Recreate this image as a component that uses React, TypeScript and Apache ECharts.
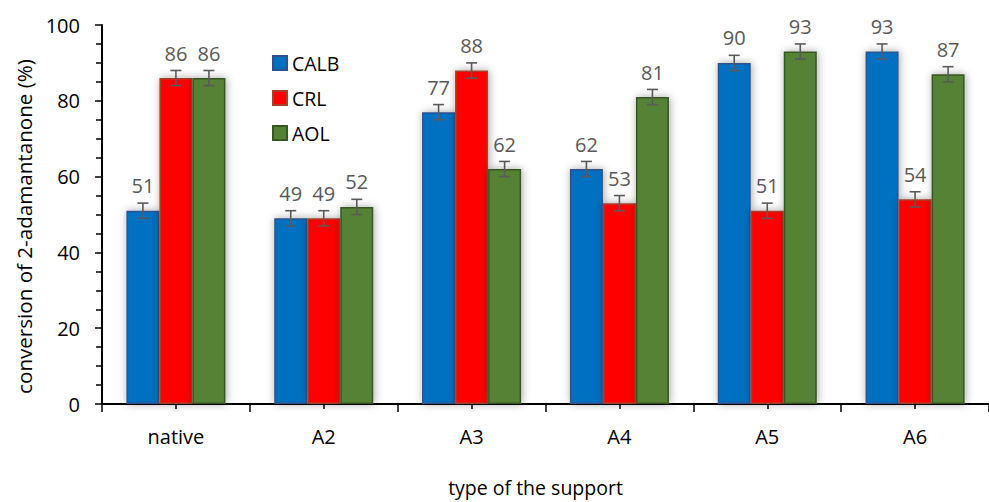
import React, { useEffect, useRef } from "react";
import * as echarts from "echarts";

// Support types on the x axis
const supports = ["native", "A2", "A3", "A4", "A5", "A6"];

// Conversion of 2-adamantanone (%) for each lipase
const calb = [51, 49, 77, 62, 90, 93];
const crl = [86, 49, 88, 53, 51, 54];
const aol = [86, 52, 62, 81, 93, 87];

// Symmetric error (± %) on every bar
const errCalb = [2, 2, 2, 2, 2, 2];
const errCrl = [2, 2, 2, 2, 2, 2];
const errAol = [2, 2, 2, 2, 2, 2];

const yTicks = { min: 0, max: 100, interval: 20 };

const FONT = "'Open Sans', 'Noto Sans', sans-serif";
const CATEGORY_GAP = 0.33;

type SeriesDef = {
  name: string;
  values: number[];
  errors: number[];
  color: string;
  border: string;
};

const seriesDefs: SeriesDef[] = [
  { name: "CALB", values: calb, errors: errCalb, color: "#0070C0", border: "#2F528F" },
  { name: "CRL", values: crl, errors: errCrl, color: "#FF0000", border: "#A5402A" },
  { name: "AOL", values: aol, errors: errAol, color: "#548235", border: "#385723" },
];

function errorBarSeries(def: SeriesDef, idx: number, count: number) {
  return {
    type: "custom",
    name: def.name + " error",
    xAxisIndex: 0,
    yAxisIndex: 0,
    z: 5,
    silent: true,
    data: def.values.map((v, i) => [i, v, def.errors[i]]),
    renderItem: (_params: any, api: any) => {
      const cat = api.value(0);
      const val = api.value(1);
      const err = api.value(2);
      const band = api.size([1, 0])[0];
      const bw = (band * (1 - CATEGORY_GAP)) / count;
      const base = api.coord([cat, val]);
      const cx = base[0] + (idx - (count - 1) / 2) * bw;
      const yTop = api.coord([cat, val + err])[1];
      const yBot = api.coord([cat, val - err])[1];
      const cap = 5.5;
      const style = { stroke: "#5A5A5A", lineWidth: 1.6 };
      return {
        type: "group",
        children: [
          { type: "line", shape: { x1: cx, y1: yTop, x2: cx, y2: yBot }, style },
          { type: "line", shape: { x1: cx - cap, y1: yTop, x2: cx + cap, y2: yTop }, style },
          { type: "line", shape: { x1: cx - cap, y1: yBot, x2: cx + cap, y2: yBot }, style },
        ],
      };
    },
  };
}

export default function App() {
  const ref = useRef<HTMLDivElement>(null);

  useEffect(() => {
    if (!ref.current) return;
    const chart = echarts.init(ref.current, undefined, { renderer: "svg" });

    const bars = seriesDefs.map((d) => ({
      type: "bar",
      name: d.name,
      xAxisIndex: 0,
      yAxisIndex: 0,
      data: d.values,
      barGap: "0%",
      barCategoryGap: CATEGORY_GAP * 100 + "%",
      itemStyle: {
        color: d.color,
        borderColor: d.border,
        borderWidth: 1.5,
        shadowBlur: 8,
        shadowColor: "rgba(0,0,0,0.35)",
        shadowOffsetX: 1,
      },
      label: {
        show: true,
        position: "top",
        distance: 15,
        fontFamily: FONT,
        fontSize: 20,
        color: "#595959",
      },
    }));

    chart.setOption({
      animation: false,
      backgroundColor: "#ffffff",
      grid: { left: 102, top: 25, width: 894.5, height: 384 },
      legend: {
        orient: "vertical",
        left: 267,
        top: 48,
        icon: "rect",
        itemWidth: 14,
        itemHeight: 14,
        itemGap: 15,
        data: seriesDefs.map((d) => d.name),
        textStyle: { fontFamily: FONT, fontSize: 19.5, color: "#000" },
      },
      xAxis: [
        {
          type: "category",
          data: supports,
          name: "type of the support",
          nameLocation: "middle",
          nameGap: 73,
          nameTextStyle: { fontFamily: FONT, fontSize: 19.5, color: "#000", padding: [0, 20, 0, 0] },
          axisLine: { show: true, lineStyle: { color: "#000", width: 2 } },
          axisTick: { show: true, alignWithLabel: false, length: 8, lineStyle: { color: "#000", width: 1.5 } },
          axisLabel: { fontFamily: FONT, fontSize: 20, color: "#000", margin: 22 },
          splitLine: { show: false },
        },
        {
          type: "category",
          data: supports,
          position: "bottom",
          axisLine: { show: false },
          axisTick: { show: true, alignWithLabel: true, length: 5, lineStyle: { color: "#000", width: 1.5 } },
          axisLabel: { show: false },
          splitLine: { show: false },
        },
      ],
      yAxis: {
        type: "value",
        min: yTicks.min,
        max: yTicks.max,
        interval: yTicks.interval,
        name: "conversion of 2-adamantanone (%)",
        nameLocation: "middle",
        nameRotate: 90,
        nameGap: 66,
        nameTextStyle: { fontFamily: FONT, fontSize: 20.6, color: "#000", padding: [0, 24, 0, 0] },
        axisLine: { show: true, lineStyle: { color: "#000", width: 2 } },
        axisTick: { show: true, length: 7, lineStyle: { color: "#000", width: 1.5 } },
        minorTick: { show: true, splitNumber: 4, length: 6, lineStyle: { color: "#000", width: 1.5 } },
        axisLabel: { fontFamily: FONT, fontSize: 20, color: "#000", margin: 22 },
        splitLine: { show: false },
        minorSplitLine: { show: false },
      },
      series: [
        ...bars,
        ...seriesDefs.map((d, i) => errorBarSeries(d, i, seriesDefs.length)),
      ],
    });

    return () => chart.dispose();
  }, []);

  return (
    <div
      ref={ref}
      style={{ position: "fixed", left: 0, top: 0, width: 989, height: 502, background: "#fff" }}
    />
  );
}
